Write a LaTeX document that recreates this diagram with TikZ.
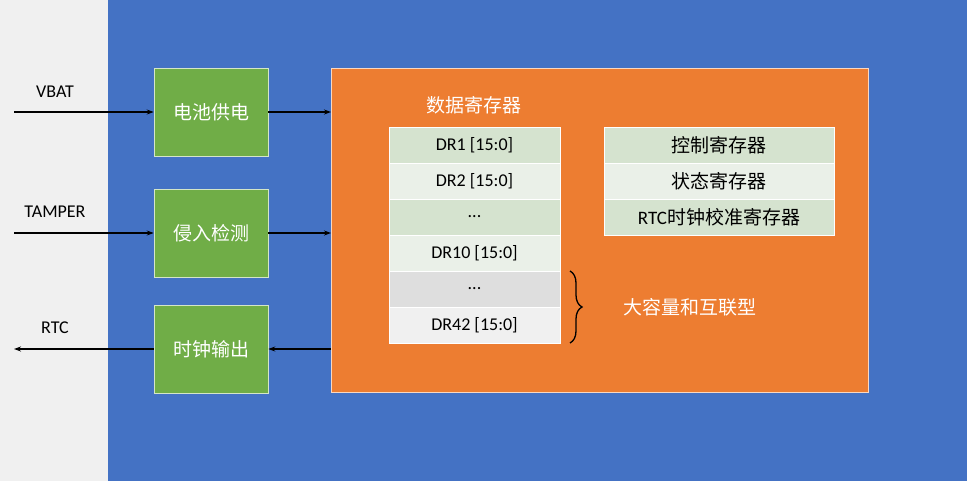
\documentclass[tikz,border=0pt]{standalone}
\usepackage{fontspec}
\setmainfont{Carlito}
\newfontfamily\cjk{Noto Sans CJK SC}
\usetikzlibrary{arrows.meta,decorations.pathreplacing}
\definecolor{bgray}{HTML}{F0F0F0}
\definecolor{blu}{HTML}{4472C4}
\definecolor{ora}{HTML}{ED7D31}
\definecolor{grn}{HTML}{70AD47}
\definecolor{rowa}{HTML}{D5E3CF}
\definecolor{rowb}{HTML}{EAF0E8}
\definecolor{rowg}{HTML}{DEDEDE}
\definecolor{rowl}{HTML}{F0F0F0}
\begin{document}
\begin{tikzpicture}[x=1pt,y=-1pt,
  gbox/.style={draw=white!70!grn,line width=0.6pt,fill=grn,minimum width=114pt,minimum height=88pt,text=white,font=\fontsize{19}{22}\selectfont\cjk},
  row/.style={draw=white,line width=0.6pt,minimum height=36pt,font=\fontsize{18}{21}\selectfont},
  lrow/.style={row,minimum width=171pt},
  rrow/.style={row,minimum width=230pt},
  arr/.style={-{Stealth[length=7pt,width=5pt]},line width=1.3pt},
  lbl/.style={font=\fontsize{18}{21}\selectfont}]
\useasboundingbox (0,0) rectangle (967,481);
\fill[bgray] (0,0) rectangle (108,481);
\fill[blu] (108,0) rectangle (967,481);
\node[draw=white!70!ora,line width=0.5pt,fill=ora,minimum width=537pt,minimum height=324pt,anchor=north west] (core) at (331,68) {};
\node[gbox] (bat) at (211,112) {电池供电};
\node[gbox] (tam) at (211,233) {侵入检测};
\node[gbox] (clk) at (211,349) {时钟输出};
\coordinate (vin) at (14,112);
\coordinate (tin) at (14,233);
\coordinate (rout) at (14,349);
\node[lbl] at (55,92) {VBAT};
\node[lbl] at (55,212) {TAMPER};
\node[lbl] at (55,328) {RTC};
\draw[arr] (vin) -- (bat.west);
\draw[arr] (tin) -- (tam.west);
\draw[arr] (clk.west) -- (rout);
\draw[arr] (bat.east) -- (bat.east -| core.west);
\draw[arr] (tam.east) -- (tam.east -| core.west);
\draw[arr] (clk.east -| core.west) -- (clk.east);
\node[font=\fontsize{19}{22}\selectfont\cjk,text=white] (dt) at (474,105) {数据寄存器};
\node[lrow,fill=rowa] (d1) at (474.5,145) {DR1 [15:0]};
\node[lrow,fill=rowb] (d2) at (474.5,181) {DR2 [15:0]};
\node[lrow,fill=rowa] (d3) at (474.5,217) {...};
\node[lrow,fill=rowb] (d4) at (474.5,253) {DR10 [15:0]};
\node[lrow,fill=rowg] (d5) at (474.5,289) {...};
\node[lrow,fill=rowl] (d6) at (474.5,325) {DR42 [15:0]};
\node[rrow,fill=rowa,font=\fontsize{19}{22}\selectfont\cjk] (r1) at (719,145) {控制寄存器};
\node[rrow,fill=rowb,font=\fontsize{19}{22}\selectfont\cjk] (r2) at (719,181) {状态寄存器};
\node[rrow,fill=rowa,font=\fontsize{19}{22}\selectfont] (r3) at (719,217) {RTC{\cjk 时钟校准寄存器}};
\coordinate (bt) at (570,271);
\coordinate (bb) at (570,343);
\draw[line width=1.3pt,decorate,decoration={brace,amplitude=12pt}] (bt) -- (bb);
\node[font=\fontsize{19}{22}\selectfont\cjk,text=white,anchor=west] (big) at (620,307) {大容量和互联型};
\end{tikzpicture}
\end{document}
